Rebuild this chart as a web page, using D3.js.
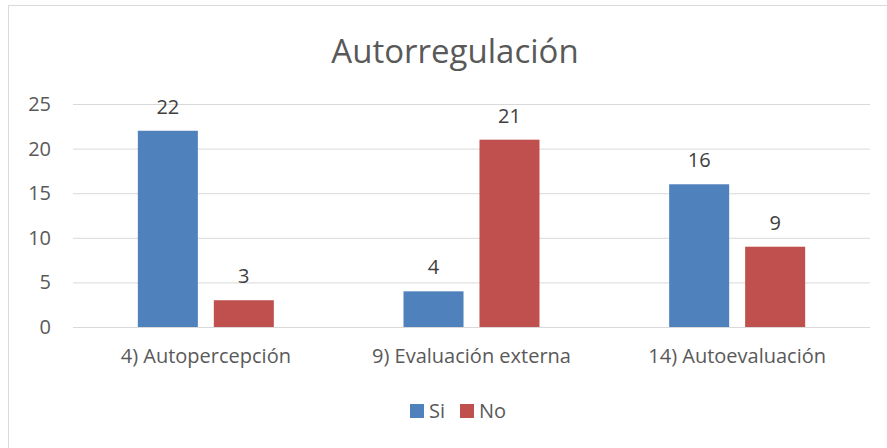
<!DOCTYPE html>
<html><head><meta charset="utf-8">
<script src="https://cdn.jsdelivr.net/npm/d3@7"></script>
<style>body{margin:0;background:#fff}svg{display:block}text{font-family:"Open Sans",sans-serif}</style>
</head><body><svg id="c" width="887" height="448"></svg>
<script>
const categories = ["4) Autopercepción", "9) Evaluación externa", "14) Autoevaluación"];
const seriesNames = ["Si", "No"];
const siValues = [22, 4, 16];
const noValues = [3, 21, 9];
const yTicks = [0, 5, 10, 15, 20, 25];
const colors = ["#4F81BD", "#C0504D"];

const svg = d3.select("#c");
svg.append("rect").attr("x", 8.5).attr("y", 5.5).attr("width", 900).attr("height", 460)
  .attr("fill", "#fff").attr("stroke", "#d9d9d9");

const x0 = d3.scaleBand().domain(categories).range([73, 870]).paddingInner(0).paddingOuter(0);
const y = d3.scaleLinear().domain([0, 25]).range([327, 104]);
const x1 = d3.scaleBand().domain(seriesNames).range([0, 136]).paddingInner(0.21);

svg.append("text").attr("x", 455).attr("y", 63).attr("text-anchor", "middle")
  .attr("font-size", 33).attr("fill", "#595959").text("Autorregulación");

const yAxis = d3.axisLeft(y).tickValues(yTicks).tickSize(-(870 - 73)).tickPadding(22);
const gy = svg.append("g").attr("transform", "translate(73,0)").call(yAxis);
gy.select(".domain").remove();
gy.selectAll(".tick line").attr("stroke", "#d9d9d9").attr("stroke-width", 1);
gy.selectAll(".tick text").attr("font-size", 20).attr("fill", "#595959");

const data = categories.map((c, i) => ({c, vals: [siValues[i], noValues[i]]}));
const g = svg.append("g");
data.forEach(d => {
  const cx = x0(d.c) + x0.bandwidth() / 2 - 68;
  d.vals.forEach((v, j) => {
    const bx = cx + x1(seriesNames[j]);
    g.append("rect").attr("x", bx).attr("y", y(v)).attr("width", x1.bandwidth())
      .attr("height", y(0) - y(v)).attr("fill", colors[j]);
    g.append("text").attr("x", bx + x1.bandwidth() / 2).attr("y", y(v) - 17)
      .attr("text-anchor", "middle").attr("font-size", 20).attr("fill", "#404040").text(v);
  });
});
svg.append("line").attr("x1", 73).attr("x2", 870).attr("y1", y(0) + 0.5).attr("y2", y(0) + 0.5).attr("stroke", "#d9d9d9");

const xAxis = d3.axisBottom(x0).tickSize(0).tickPadding(22);
const gx = svg.append("g").attr("transform", `translate(0,${y(0)})`).call(xAxis);
gx.select(".domain").remove();
gx.selectAll(".tick text").attr("font-size", 20).attr("fill", "#595959");

const leg = svg.append("g");
const legX = [410, 460];
seriesNames.forEach((s, i) => {
  leg.append("rect").attr("x", legX[i]).attr("y", 404).attr("width", 14).attr("height", 14).attr("fill", colors[i]);
  leg.append("text").attr("x", legX[i] + 19).attr("y", 418).attr("font-size", 20).attr("fill", "#595959").text(s);
});
</script></body></html>
